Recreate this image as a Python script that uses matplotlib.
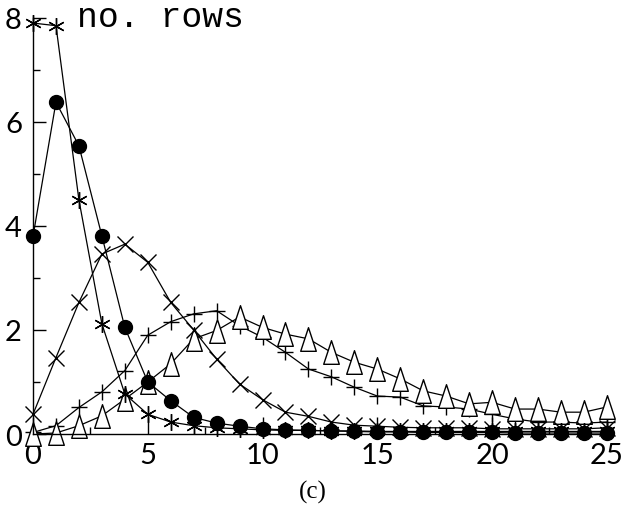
import numpy as np
import matplotlib
matplotlib.use("Agg")
from matplotlib import pyplot as plt
from matplotlib.path import Path

# number of rows (x) and the five curves
x = np.arange(0, 26)

star = [7.9, 7.85, 4.5, 2.12, 0.77, 0.38, 0.23, 0.16, 0.12, 0.1, 0.08, 0.07, 0.07,
        0.06, 0.06, 0.05, 0.05, 0.05, 0.05, 0.05, 0.05, 0.05, 0.05, 0.05, 0.05, 0.05]
dots = [3.8, 6.38, 5.54, 3.81, 2.05, 1.0, 0.64, 0.32, 0.21, 0.15, 0.1, 0.08, 0.07,
        0.06, 0.05, 0.04, 0.04, 0.03, 0.03, 0.03, 0.03, 0.02, 0.02, 0.02, 0.02, 0.02]
cross = [0.38, 1.47, 2.53, 3.46, 3.65, 3.3, 2.53, 2.0, 1.44, 0.96, 0.66, 0.42, 0.34,
         0.23, 0.17, 0.15, 0.13, 0.12, 0.12, 0.12, 0.1, 0.1, 0.1, 0.1, 0.1, 0.12]
plus = [0.03, 0.16, 0.51, 0.81, 1.22, 1.9, 2.16, 2.31, 2.37, 2.08, 1.86, 1.57, 1.25,
        1.1, 0.9, 0.73, 0.71, 0.54, 0.52, 0.48, 0.38, 0.29, 0.23, 0.23, 0.21, 0.23]
tri = [0.0, 0.02, 0.16, 0.35, 0.67, 1.0, 1.35, 1.83, 1.99, 2.25, 2.05, 1.92, 1.83,
       1.57, 1.38, 1.25, 1.06, 0.83, 0.73, 0.58, 0.61, 0.48, 0.48, 0.42, 0.42, 0.52]

# tall open triangle like the old plotter symbol
tri_mark = Path([(-0.33, -0.5), (0.33, -0.5), (0, 0.5), (-0.33, -0.5)],
                [Path.MOVETO, Path.LINETO, Path.LINETO, Path.CLOSEPOLY])

tick_font = ["Lato", "DejaVu Sans"]

fig = plt.figure(figsize=(6.23, 5.10), dpi=100)
ax = fig.add_axes([0.053, 0.147, 0.921, 0.816])

kw = dict(color="black", lw=0.9, clip_on=False)
ax.plot(x, plus, marker="+", ms=11, mew=1.0, **kw)
ax.plot(x, tri, marker=tri_mark, ms=17, mfc="white", mec="black", mew=1.0, **kw)
ax.plot(x, cross, marker="x", ms=12, mew=1.0, **kw)
ax.plot(x, star, marker=(6, 2, 0), ms=12, mew=1.0, **kw)
ax.plot(x, dots, marker="o", ms=10, mfc="black", mec="black", **kw)

ax.set_xlim(0, 25)
ax.set_ylim(0, 8)
ax.set_xticks([0, 5, 10, 15, 20, 25])
ax.set_xticks(np.arange(0, 25.1, 2.5), minor=True)
ax.set_yticks([0, 2, 4, 6, 8])
ax.set_yticks([1, 3, 5, 7], minor=True)

ax.spines["top"].set_visible(False)
ax.spines["right"].set_visible(False)
for s in ["left", "bottom"]:
    ax.spines[s].set_linewidth(1.0)

ax.tick_params(axis="y", which="major", direction="in", length=9, width=1, pad=8)
ax.tick_params(axis="y", which="minor", direction="in", length=5, width=1)
ax.tick_params(axis="x", which="major", direction="in", length=12, width=1, pad=6)
ax.tick_params(axis="x", which="minor", direction="in", length=5, width=1)
for lab in ax.get_xticklabels() + ax.get_yticklabels():
    lab.set_family(tick_font)
    lab.set_fontsize(21)

fig.text(77 / 623, 1 - 27 / 510, "no. rows", family="Liberation Mono",
         fontsize=25, va="baseline", ha="left")
fig.text(313 / 623, 1 - 492 / 510, "(c)", family="Liberation Serif",
         fontsize=18, va="center", ha="center")

plt.savefig("out.png", dpi=100)
